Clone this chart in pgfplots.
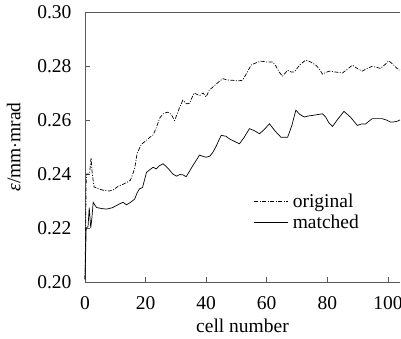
\documentclass[border=0pt]{standalone}
\usepackage{pgfplots}
\pgfplotsset{compat=1.18}
\usepackage{fontspec}
\setmainfont{Liberation Serif}
\definecolor{axgray}{gray}{0.35}
\begin{document}
\begin{tikzpicture}[font=\fontsize{19.5}{22}\selectfont]
\begin{axis}[
  scale only axis,
  width=315pt, height=270pt,
  xmin=0, xmax=104, ymin=0.20, ymax=0.30,
  xtick={0,20,40,60,80,100},
  ytick={0.20,0.22,0.24,0.26,0.28,0.30},
  xtick pos=bottom, ytick pos=left,
  tick align=inside,
  major tick length=5pt,
  tick style={axgray, line width=0.6pt},
  axis line style={draw=none},
  /pgf/number format/assume math mode=true,
  yticklabel style={/pgf/number format/fixed, /pgf/number format/fixed zerofill, /pgf/number format/precision=2, font=\fontsize{19.5}{22}\selectfont, xshift=-10pt},
  xticklabel style={font=\fontsize{19.5}{22}\selectfont, yshift=-11pt},
  scaled y ticks=false,
  xlabel={cell number},
  ylabel={\textit{ε}/mm$\cdot$mrad},
  label style={font=\fontsize{19.5}{22}\selectfont},
  xlabel style={yshift=-2pt},
  ylabel style={yshift=10pt},
  legend style={at={(rel axis cs:0.533,0.337)}, anchor=north west, draw=none, fill=none, font=\fontsize{19.5}{22}\selectfont, row sep=1.5pt, inner sep=1pt, nodes={inner xsep=4pt}},
  legend cell align=left,
  legend image code/.code={\draw[#1] (0pt,0pt) -- (34pt,0pt);},
  clip=false,
]
\draw[axgray, line width=0.8pt] (rel axis cs:1,0) -- (rel axis cs:0,0) -- (rel axis cs:0,1) -- (rel axis cs:1,1);
\addplot[black, line width=0.7pt, dash pattern=on 4pt off 1.5pt on 1pt off 1.5pt] coordinates {
(0,0.201) (0.4,0.238) (0.6,0.240) (1.5,0.240) (2.0,0.246) (2.4,0.240) (3.0,0.2352)
(4.5,0.2345) (6,0.2340) (8,0.2337) (9.5,0.2342) (11,0.2355) (12.6,0.2362) (14,0.2370)
(15,0.2377) (16.4,0.2420) (17.2,0.2476) (18.6,0.2510) (20,0.2522) (21.4,0.2536)
(22.5,0.2545) (23.5,0.2570) (24.7,0.2608) (26,0.2625) (27.4,0.2629) (28.5,0.2620)
(29.6,0.2598) (31,0.2640) (32.3,0.2673) (33.5,0.2660) (34.5,0.2662) (36,0.2700)
(37.8,0.2690) (39,0.2700) (40,0.2685) (41,0.2710) (42.2,0.2722) (43.5,0.2735)
(45.5,0.2753) (47,0.2748) (48.8,0.2747) (50.5,0.2745) (52,0.2747) (53.5,0.2775)
(54.8,0.2803) (56.5,0.2812) (58.1,0.2818) (60,0.2815) (62,0.2815) (63,0.2800)
(64.1,0.2778) (65.2,0.2762) (66.9,0.2784) (68,0.2778) (69.1,0.2778) (71,0.2805)
(72.9,0.2822) (74.5,0.2815) (76.2,0.2803) (77.3,0.2790) (78.4,0.2770) (80.6,0.2781)
(82.5,0.2778) (85,0.2774) (86.8,0.2790) (88.3,0.2803) (90,0.2790) (91.5,0.2781)
(93,0.2790) (94.8,0.2799) (96.2,0.2795) (97.6,0.2791) (99,0.2805) (100.3,0.2819)
(101.8,0.2805) (103,0.2791) (104,0.2785)
};
\addlegendentry{original}
\addplot[black, line width=0.7pt] coordinates {
(0,0.201) (0.4,0.220) (1.0,0.2205) (1.4,0.2275) (1.9,0.2200) (2.3,0.2240) (2.7,0.2295)
(3.8,0.2276) (5.5,0.2272) (7.1,0.2270) (9,0.2275) (10.4,0.2283) (11.5,0.2290)
(12.6,0.2295) (13.7,0.2286) (15,0.2295) (16.4,0.2307) (17.2,0.2330) (18,0.2345)
(19,0.2350) (20.3,0.2406) (21.3,0.2415) (22.5,0.2425) (23.5,0.2419) (24.5,0.2430)
(25.8,0.2438) (27.5,0.2420) (29,0.2400) (30.2,0.2392) (31.3,0.2398) (32.3,0.2397)
(33.4,0.2390) (34.5,0.2410) (35.6,0.2431) (36.7,0.2450) (37.8,0.2470) (39,0.2465)
(40,0.2462) (41.2,0.2466) (42.2,0.2480) (43.4,0.2505) (44.4,0.2530) (45,0.2543)
(46.5,0.2540) (47.7,0.2530) (49.5,0.2520) (51,0.2512) (52.5,0.2535) (54.3,0.2568)
(56,0.2560) (57.6,0.2549) (59.2,0.2565) (60.9,0.2586) (62.7,0.2560) (64.7,0.2536)
(66.9,0.2536) (68.3,0.2580) (69.6,0.2636) (71,0.2620) (72.4,0.2611) (73.8,0.2615)
(75.1,0.2617) (76.8,0.2620) (78.4,0.2623) (79.5,0.2610) (80.5,0.2590) (81.7,0.2576)
(83.6,0.2605) (85.5,0.2632) (87.7,0.2610) (89.9,0.2580) (91.2,0.2585) (92.6,0.2585)
(94.8,0.2605) (96.5,0.2605) (98.1,0.2605) (99.5,0.2600) (100.9,0.2592) (102,0.2593)
(103,0.2595) (104,0.2600)
};
\addlegendentry{matched}
\end{axis}
\pgfresetboundingbox
\path (current axis.south west) ++(-85pt,-57pt) rectangle ++(401pt,339pt);
\end{tikzpicture}
\end{document}
